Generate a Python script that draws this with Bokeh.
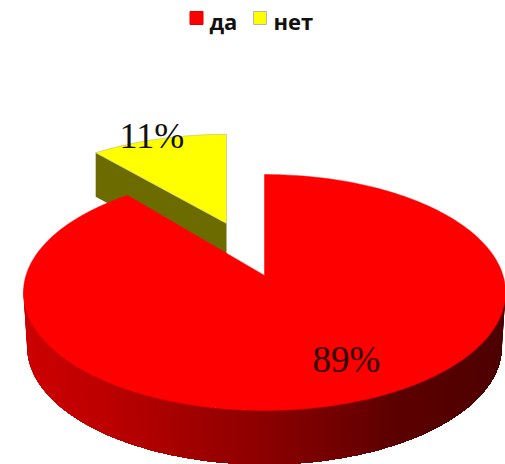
import numpy as np
from bokeh.core.properties import value
from bokeh.embed import file_html
from bokeh.models import Range1d
from bokeh.plotting import figure
from bokeh.resources import INLINE

# Survey answers
categories = ["да", "нет"]
shares = [89, 11]
share_labels = ["89%", "11%"]

# Drawing settings
top_colors = ["#ff0000", "#ffff00"]
wall_color_no = "#6b6b00"
WIDTH, HEIGHT = 505, 464
TILT = 0.144  # perspective strength of the disc


def rim(theta, apex, sx, sy):
    """Rim point of a tilted disc; theta runs clockwise from twelve o'clock."""
    w = 1 + TILT * np.cos(theta)
    return apex[0] + sx * np.sin(theta) / w, apex[1] - sy * np.cos(theta) / w


def wall_shade(x):
    """Side wall gets darker from left to right."""
    stops_x = [23, 100, 264, 400, 505]
    stops_r = [205, 190, 140, 92, 78]
    return "#%02x0000" % int(np.interp(x, stops_x, stops_r))


p = figure(width=WIDTH, height=HEIGHT, output_backend="svg", toolbar_location=None,
           x_range=Range1d(0, WIDTH), y_range=Range1d(HEIGHT, 0), min_border=0)
p.axis.visible = False
p.grid.visible = False
p.outline_line_color = None
p.background_fill_color = "white"
p.border_fill_color = "white"

split = 2 * np.pi * shares[0] / sum(shares)

# "нет" slice, pulled away from the disc
no_apex = (226, 223)
no_sx, no_sy, no_depth = 228, 102, 44
no_arc = np.linspace(split, 2 * np.pi, 50)
nx, ny = rim(no_arc, no_apex, no_sx, no_sy)
cx, cy = rim(split, no_apex, no_sx, no_sy)
p.patch([cx, no_apex[0], no_apex[0], cx], [cy, no_apex[1], no_apex[1] + no_depth, cy + no_depth],
        fill_color=wall_color_no, line_color=None)
p.patch(np.r_[no_apex[0], nx], np.r_[no_apex[1], ny],
        fill_color=top_colors[1], line_color="#b8b880", line_width=0.6)

# "да" slice: each wall band runs to the far end and is overpainted by the next,
# which keeps the gradient free of seams; the top face goes over it
yes_apex = (264, 275)
yes_sx, yes_sy, yes_depth = 238.5, 115.5, 54
edge = np.linspace(np.radians(264), np.radians(96), 121)
ex, ey = rim(edge, yes_apex, yes_sx, yes_sy)
bx = yes_apex[0] + (ex - yes_apex[0]) * 0.985
by = ey + yes_depth
for i in range(len(edge) - 1):
    shade = wall_shade((ex[i] + ex[i + 1]) / 2)
    p.patch(np.r_[ex[i:], bx[i:][::-1]], np.r_[ey[i:], by[i:][::-1]],
            fill_color=shade, line_color=None)

yes_arc = np.linspace(0, split, 240)
tx, ty = rim(yes_arc, yes_apex, yes_sx, yes_sy)
p.patch(np.r_[yes_apex[0], tx], np.r_[yes_apex[1], ty],
        fill_color=top_colors[0], line_color=top_colors[0], line_width=0.5)

# Percentage labels
p.text([312], [359], text=[share_labels[0]], text_font=value("Liberation Serif"),
       text_font_size="37px", text_color="#2a0000", text_baseline="alphabetic")
p.text([119], [135.5], text=[share_labels[1]], text_font=value("Liberation Serif"),
       text_font_size="36px", text_color="#111111", text_baseline="alphabetic")

# Legend row
p.rect([196, 259.5], [17.5, 17.5], width=13, height=13, fill_color=top_colors,
       line_color=["#e00000", "#b8b8a0"], line_width=1)
p.text([209, 273], [20, 20], text=categories, text_font=value("Open Sans"),
       text_font_size="22px", text_color="#111111", text_baseline="alphabetic",
       text_font_style="bold")

open("out.html", "w").write(file_html(p, INLINE))
